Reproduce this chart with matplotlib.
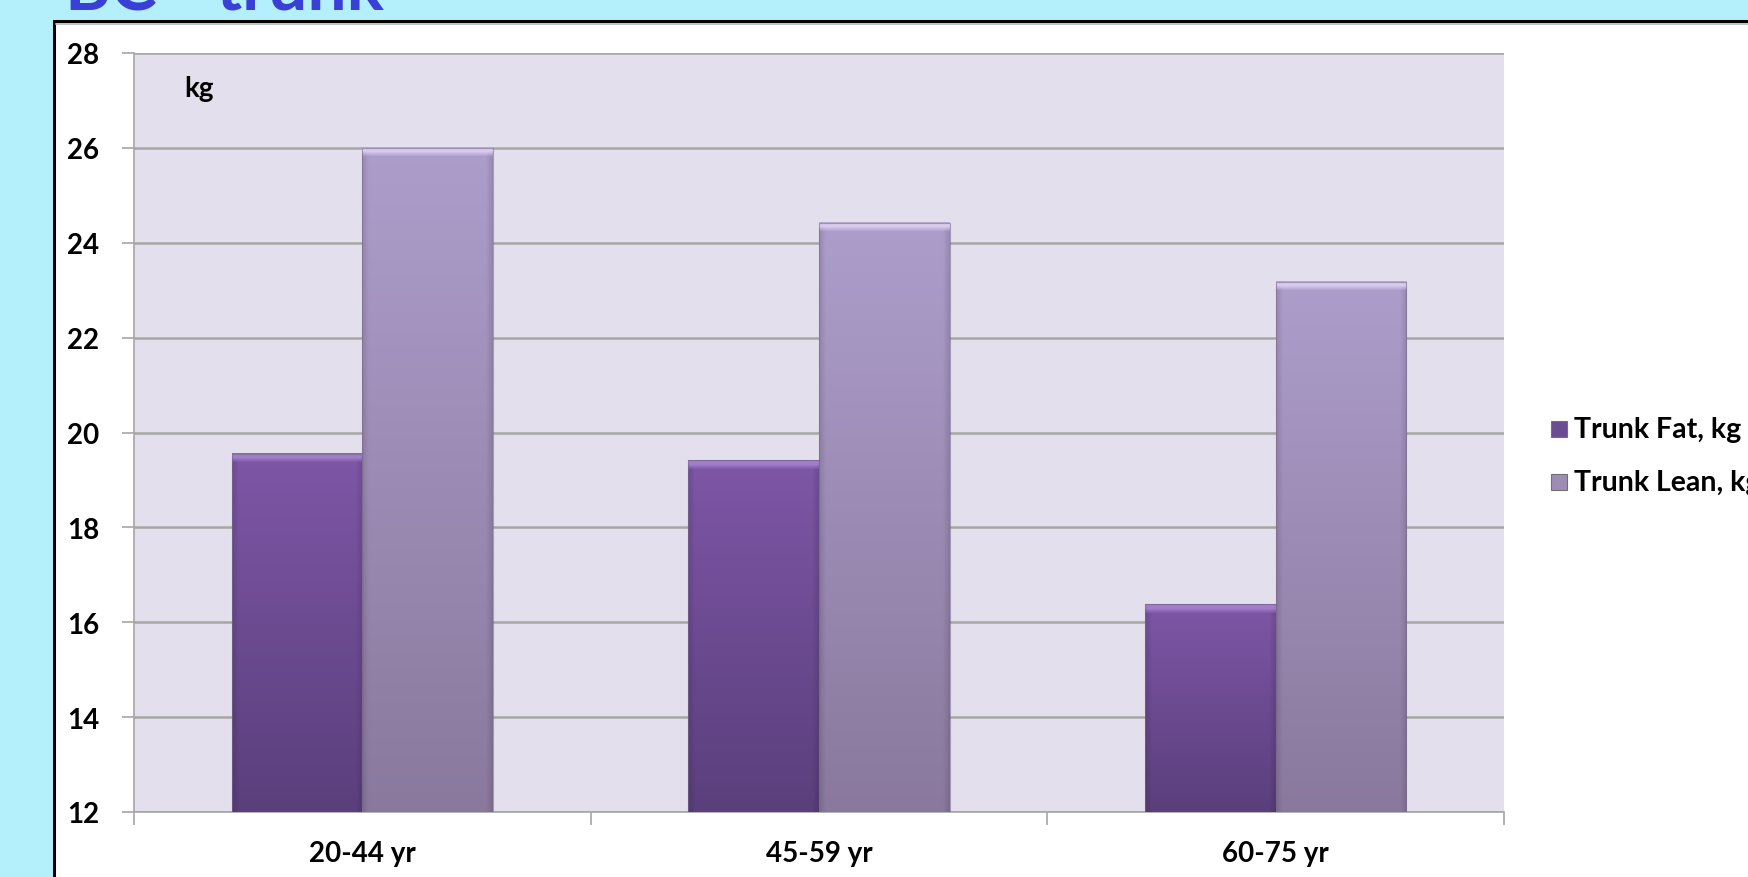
import numpy as np
import matplotlib
matplotlib.use("Agg")
from matplotlib import pyplot as plt
from matplotlib.patches import Rectangle
from matplotlib.colors import to_rgb

plt.rcParams['font.family'] = ['Lato', 'DejaVu Sans']

groups = ['20-44 yr', '45-59 yr', '60-75 yr']
trunk_fat = [19.55, 19.42, 16.38]
trunk_lean = [26.0, 24.42, 23.18]
series_names = ['Trunk Fat, kg', 'Trunk Lean, kg']
yticks = [12, 14, 16, 18, 20, 22, 24, 26, 28]

W, H = 1749, 878
fig = plt.figure(figsize=(W / 100, H / 100), dpi=100)
fig.patch.set_facecolor('#B4F0FC')

# title sits mostly above the visible slide area
fig.text(65 / W, 1 - 9 / H, 'BC - trunk', color='#3A3FD6', fontsize=50, fontweight='bold',
         va='baseline', ha='left')

# white chart frame with a dark border
frame = Rectangle((54 / W, -0.05), 1.2, 1 - 22 / H + 0.05, transform=fig.transFigure,
                  facecolor='white', edgecolor='black', linewidth=2.2, zorder=0)
fig.patches.append(frame)
fig.add_artist(plt.Line2D([56 / W, 1.0], [1 - 24.5 / H] * 2, transform=fig.transFigure,
                          color='#B8B8B8', linewidth=1.2))

ax = fig.add_axes([134 / W, 1 - 813 / H, (1504 - 134) / W, (813 - 54) / H])
ax.set_facecolor('#E4DFEC')
ax.set_zorder(2)

x = np.arange(len(groups))
w = 0.286
px_per_unit = (813 - 54) / 16


def shaded_bar(ax, xc, top, c_top, c_bot, c_hi):
    x0, x1 = xc - w / 2, xc + w / 2
    span = top - 12
    n = int(span * px_per_unit)
    t = np.linspace(0, 1, n)[:, None]
    ct, cb, ch = np.array(to_rgb(c_top)), np.array(to_rgb(c_bot)), np.array(to_rgb(c_hi))
    img = ct[None, None, :] * (1 - t[..., None]) + cb[None, None, :] * t[..., None]
    img = np.repeat(img, 120, axis=1)
    # darker edges at the sides
    s = np.linspace(0, 1, 120)
    edge = 1 - 0.12 * np.clip(1 - np.minimum(s, 1 - s) / 0.05, 0, 1)
    img = img * edge[None, :, None]
    # bevel highlight near the top of the bar
    for r in range(9):
        a = 0.9 if r < 5 else 0.9 * (9 - r) / 5
        img[r] = img[r] * (1 - a) + ch * a
    img[0] = img[0] * 0.85
    ax.imshow(img, extent=(x0, x1, 12, top), aspect='auto', zorder=3, interpolation='bilinear')
    ax.add_patch(Rectangle((x0, 12), w, top - 12, fill=False, edgecolor='#7A6A8E',
                           linewidth=0.8, alpha=0.6, zorder=4))


for i in range(len(groups)):
    shaded_bar(ax, x[i] - w / 2, trunk_fat[i], '#7E56A6', '#5A3F7C', '#A582CF')
    shaded_bar(ax, x[i] + w / 2, trunk_lean[i], '#AD9DCB', '#8A799D', '#DCD0F2')

ax.set_xlim(-0.5, 2.5)
ax.set_ylim(12, 28)
ax.set_yticks(yticks)
ax.set_yticklabels([str(v) for v in yticks], fontsize=20, fontweight='bold')
ax.yaxis.grid(True, color='#A6A6A6', linewidth=1.8, zorder=1)
ax.set_axisbelow(True)

ax.set_xticks(x)
ax.set_xticklabels(groups, fontsize=20, fontweight='bold')
ax.set_xticks([-0.5, 0.5, 1.5, 2.5], minor=True)
ax.tick_params(axis='x', which='major', length=0, pad=20)
ax.tick_params(axis='x', which='minor', length=9, color='#A6A6A6', width=1.2)
ax.tick_params(axis='y', length=9, color='#A6A6A6', width=1.2, pad=16)

for side in ['top', 'right']:
    ax.spines[side].set_visible(False)
for side in ['left', 'bottom']:
    ax.spines[side].set_color('#A6A6A6')
    ax.spines[side].set_linewidth(1.2)

ax.text(0.037, 0.954, 'kg', transform=ax.transAxes, fontsize=20, fontweight='bold',
        ha='left', va='center')

# legend entries to the right of the plot
leg_y = [1 - 430 / H, 1 - 483 / H]
leg_cols = ['#6C4B93', '#9D8DB5']
for name, yy, c1 in zip(series_names, leg_y, leg_cols):
    fig.patches.append(Rectangle((1551 / W, yy - 8 / H), 16 / W, 16 / H, transform=fig.transFigure,
                                 facecolor=c1, edgecolor='#707070', linewidth=0.8, zorder=3))
    fig.text(1574 / W, yy, name, fontsize=20.5, fontweight='bold', va='center', ha='left')

fig.savefig('out.png', dpi=100, facecolor=fig.get_facecolor())
